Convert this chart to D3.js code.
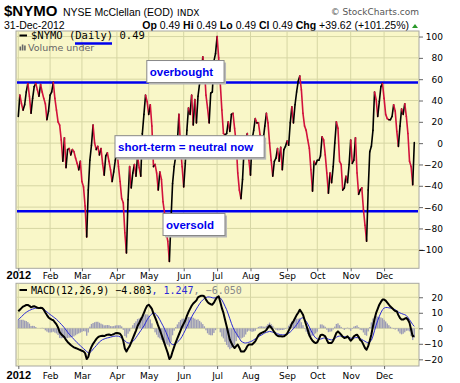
<!DOCTYPE html>
<html>
<head>
<meta charset="utf-8">
<script src="https://cdn.jsdelivr.net/npm/d3@7"></script>
<style>
  body { margin: 0; background: #fff; }
  text { font-family: "DejaVu Sans", sans-serif; }
</style>
</head>
<body>
<svg id="chart" width="460" height="383"></svg>
<script>
// $NYMO daily closes, one array per month (trading days of 2012)
const nymoJan = [25, 45, 37, 31, 36, 48, 56, 44, 28, 42, 53, 56, 50, 44, 55, 48, 42, 37, 22, 30];
const nymoFeb = [45, 48, 57, 42, 31, 20, 17, 3, -17, 5, -23, -6, -5, -11, -6, -8, -14, -19, -25, -17];
const nymoMar = [-36, -41, -59, -88, -44, -16, -2, 17, 0, -6, -3, -11, -5, -19, -30, -12, -9, -17, -25, -36, -27, -16];
const nymoApr = [-6, -22, -36, -52, -56, -84, -103, -53, -22, -42, -28, -20, -31, -12, -23, -31, 9, 27, 45, 39];
const nymoMay = [27, 36, 16, -22, -20, -28, -44, -27, -34, -55, -66, -84, -92, -111, -72, -38, -22, -12, 0, 27, -3, -22];
const nymoJun = [-41, -19, 12, 33, 27, 45, 17, 41, 19, 44, 56, 61, 81, 72, 45, 33, 19, 47, 48, 77, 84];
const nymoJul = [100, 80, 56, 31, 9, 8, 9, 20, 11, 27, 28, 14, 0, -28, -44, -52, -34, -5, 3, 9, -16];
const nymoAug = [-30, 3, 12, 23, 19, 19, 8, -9, 3, 16, 28, 19, 0, -16, -31, -17, -14, -5, -17, -4, -25, -6, -3];
const nymoSep = [2, -2, 19, 34, 19, 36, 48, 58, 63, 50, 28, 16, 12, 3, -5, -25, -45, -17, -20];
const nymoOct = [-16, -16, -12, 6, 3, -11, -28, -47, -28, -37, -22, 0, 20, 14, -17, -20, -44, -42, -31, -37, -20];
const nymoNov = [3, -19, -16, 5, -28, -48, -44, -42, -62, -77, -92, -44, -8, -3, 12, 48, 41, 25, 39, 53, 56];
const nymoDec = [42, 27, 23, 22, 22, 25, 36, 30, 11, -3, 16, 32, 27, 37, 25, 9, -17, -22, -39, 0.49];

// MACD(12,26,9) line
const macdJan = [11, 12, 13, 14, 14.5, 15, 15, 14.5, 13.5, 14, 14.2, 13.8, 13.2, 13, 13.2, 13.1, 12, 10.2, 8.5, 7];
const macdFeb = [6.2, 5.6, 5.2, 3.8, 2.5, 0.5, -2.5, -3.8, -4.8, -5.8, -7.5, -8.8, -9.8, -10.8, -11.6, -12.3, -12.7, -13.1, -13.6, -14];
const macdMar = [-14.5, -14.9, -16, -19.8, -18.5, -14.5, -12, -10, -8.5, -7, -5.8, -5.2, -5, -4.8, -5, -4.5, -4.1, -4, -4.3, -4.1, -3.8, -3.2];
const macdApr = [-3, -3.2, -3.5, -5, -8, -13, -15, -13, -11.5, -9, -6.5, -4, -1.5, 1.5, 3.4, 5.5, 7.5, 10, 12.5, 14.5];
const macdMay = [15.2, 14, 12.5, 9.5, 7, 4.5, 1.5, -1, -4, -7, -10, -13, -16, -19.8, -18.5, -15, -12, -9, -6.5, -4, -1.5, 1];
const macdJun = [3, 5, 8, 10.5, 12.5, 14.5, 16, 17, 18, 20, 20.6, 21, 21, 20.5, 18.5, 17, 16, 15.5, 15.2, 16.5, 18.5];
const macdJul = [20, 20.6, 17, 13, 9.9, 5.5, 1.3, -3, -7.3, -9.5, -11.5, -12.7, -11.5, -10.5, -12.5, -14.9, -15, -14.9, -13.5, -11.5, -10.5];
const macdAug = [-10.5, -10.5, -9.5, -8.4, -6.5, -4.5, -3.5, -3, -2.5, -2, -1, 0.5, 1.7, 0.5, -0.9, -2.5, -4, -4.8, -5.2, -5.2, -5.3, -5.2, -4.5];
const macdSep = [-3.5, -1.5, 0.5, 3, 4.5, 6.5, 8.5, 10, 12, 10.5, 8.8, 5.5, 2.3, -1, -4.5, -6.5, -8, -9, -9.5];
const macdOct = [-9, -7, -4.5, -4.1, -4.5, -5.2, -7.5, -9.5, -9.5, -9.5, -8, -5.5, -3, -2, -3, -4.1, -5.5, -6.3, -6, -5.2, -6.5];
const macdNov = [-8, -7, -5.2, -4.5, -4.1, -5.5, -7.5, -8.4, -10.5, -12.7, -13.8, -11.5, -8, -4, 1.3, 6, 9.9, 12.5, 15.2, 17, 18.5];
const macdDec = [18.5, 17.8, 16.5, 15.2, 14, 13.1, 12, 11.2, 10.9, 8.5, 6.6, 5.6, 5.6, 6.2, 6.6, 5.5, 3.5, -0.9, -5.2, -4.803];

// signal line
const sigJan = [5.5, 6.5, 7.5, 8.5, 9.5, 10.3, 11, 11.5, 12, 12.4, 12.7, 13, 13.1, 13.1, 13, 12.8, 12.3, 11.5, 10.6, 9.7];
const sigFeb = [8.9, 8.2, 7.4, 6.6, 5.8, 4.8, 3.7, 2.6, 1.5, 0.3, -1.1, -2.5, -3.8, -4.9, -6, -7.1, -8.2, -9.3, -10.3, -11.2];
const sigMar = [-12.2, -13.1, -14, -15, -15.8, -15.6, -14.8, -13.4, -12.4, -11.2, -10, -8.8, -8, -7.3, -6.9, -6.5, -6.2, -6, -5.7, -5.4, -5.2, -5];
const sigApr = [-5, -5.1, -5.5, -6.2, -7, -8, -9, -9.5, -9.5, -9.3, -8.5, -7.4, -6, -4.5, -3, -1.5, 0, 1.5, 3.5, 5.5];
const sigMay = [7, 8.3, 9.3, 9.9, 9.6, 8.6, 7.3, 5.5, 3.5, 1.6, -0.5, -2.8, -5.3, -8, -9.8, -10.5, -10.5, -9.8, -9, -8, -6.8, -5.2];
const sigJun = [-3.2, -1.2, 1, 3.2, 5.3, 7.3, 9.2, 10.8, 12.5, 14.2, 15.8, 17.2, 18.3, 19.2, 19.8, 20.2, 20.2, 20, 19.7, 19.5, 19.7];
const sigJul = [20.2, 20.6, 19.6, 18.3, 16.4, 14.2, 12, 9.2, 6.2, 3.2, 0.6, -1.6, -3.2, -4.8, -6.5, -8.2, -8.9, -9.4, -9.5, -9.3, -9];
const sigAug = [-8.6, -8.2, -7.5, -6.8, -6.2, -5.4, -4.8, -4.3, -3.6, -3, -2.6, -2.3, -2, -2.2, -2.5, -2.8, -3, -3.5, -3.9, -4.1, -4.2, -4.2, -4.1];
const sigSep = [-3.8, -3.2, -2.4, -1.4, -0.2, 1, 2.3, 3.8, 5.5, 6.6, 6.8, 5.8, 4.5, 2.8, 0.8, -1.3, -3.3, -5, -6.2];
const sigOct = [-6.8, -7.2, -7, -6.6, -6.3, -6.2, -6.5, -7, -7.3, -7.5, -7.2, -6.6, -5.8, -5.2, -5, -5, -5.2, -5.3, -5.5, -5.6, -5.9];
const sigNov = [-6.3, -6.5, -6.3, -6, -6, -6.2, -6.6, -7.2, -7.8, -8.4, -9, -9.5, -8.8, -7.8, -5, -1.5, 2, 5, 7.7, 10, 12];
const sigDec = [13, 13.4, 13.4, 13.2, 13, 12.8, 12.4, 12, 11.3, 10.5, 9.9, 9.5, 9.1, 8.8, 8.2, 7, 5.5, 4, 2.4, 1.247];

const monthLabels = ['2012', 'Feb', 'Mar', 'Apr', 'May', 'Jun', 'Jul', 'Aug', 'Sep', 'Oct', 'Nov', 'Dec'];
const mainTicks = [-100, -80, -60, -40, -20, 0, 20, 40, 60, 80, 100];
const macdTicks = [-20, -10, 0, 10, 20];
const overbought = 57;
const oversold = -64;
const notes = [
  {text: 'overbought', day: 80.8, value: 77.5},
  {text: 'short-term = neutral now', day: 60.8, value: 7},
  {text: 'oversold', day: 91, value: -66}
];
const ohlcLabels = ['Op', 'Hi', 'Lo', 'Cl', 'Chg'];
const ohlcValues = ['0.49', '0.49', '0.49', '0.49', '+39.62 (+101.25%)'];

const nymoMonths = [nymoJan, nymoFeb, nymoMar, nymoApr, nymoMay, nymoJun,
  nymoJul, nymoAug, nymoSep, nymoOct, nymoNov, nymoDec];
const nymo = nymoMonths.flat();
const macd = [macdJan, macdFeb, macdMar, macdApr, macdMay, macdJun,
  macdJul, macdAug, macdSep, macdOct, macdNov, macdDec].flat();
const signal = [sigJan, sigFeb, sigMar, sigApr, sigMay, sigJun,
  sigJul, sigAug, sigSep, sigOct, sigNov, sigDec].flat();
// histogram is MACD minus its signal line
const hist = macd.map((m, i) => m - signal[i]);

// first trading day index of each month
let acc = 0;
const monthStart = nymoMonths.map(m => { const s = acc; acc += m.length; return s; });

const plotLeft = 16, plotRight = 419;
const mainTop = 31, mainBottom = 268.3;
const macdTop = 283.3, macdBottom = 366;
const gridColor = '#d6d6a4';
const panelFill = '#f9f7c8';

const svg = d3.select('#chart');

const x = d3.scaleLinear().domain([0, nymo.length - 1]).range([18.3, 414.3]);
const yMain = d3.scaleLinear().domain([-117.4, 105.2]).range([mainBottom, mainTop]);
const yMacd = d3.scaleLinear().domain([-24.3, 29]).range([macdBottom, macdTop]);

// header
svg.append('text').attr('x', 4).attr('y', 16)
    .style('font', 'bold 15px "Liberation Sans", Arial').text('$NYMO');
svg.append('text').attr('x', 63).attr('y', 16)
    .style('font', '10.5px "Liberation Sans", Arial').text('NYSE McClellan (EOD)');
svg.append('text').attr('x', 177).attr('y', 16)
    .style('font-size', '9px').text('INDX');
svg.append('text').attr('x', 419).attr('y', 15).attr('text-anchor', 'end')
    .style('font-size', '9px').attr('fill', '#555').text('\u00a9 StockCharts.com');
svg.append('text').attr('x', 4).attr('y', 28.5)
    .style('font', '10.5px "Liberation Sans", Arial').text('31-Dec-2012');

const ohlc = svg.append('text').attr('x', 409).attr('y', 28.5).attr('text-anchor', 'end')
    .style('font', '10.5px "Liberation Sans", Arial');
ohlcLabels.forEach((l, i) => {
  ohlc.append('tspan').style('font-weight', 'bold').text((i ? ' ' : '') + l + ' ');
  ohlc.append('tspan').text(ohlcValues[i]);
});
svg.append('path').attr('d', 'M412,28 L418,28 L415,24 Z').attr('fill', '#2a9a2a');

// panels
function panel(top, bottom) {
  svg.append('rect')
      .attr('x', plotLeft).attr('y', top)
      .attr('width', plotRight - plotLeft).attr('height', bottom - top)
      .attr('fill', panelFill).attr('stroke', '#a8a8a0');
}
panel(mainTop, mainBottom);
panel(macdTop, macdBottom);

function grid(yScale, ticks, top, bottom) {
  const g = svg.append('g').attr('stroke', gridColor).attr('stroke-width', 1);
  g.selectAll('line.h').data(ticks).join('line')
      .attr('x1', plotLeft + 0.5).attr('x2', plotRight - 0.5)
      .attr('y1', d => yScale(d)).attr('y2', d => yScale(d));
  g.selectAll('line.v').data(monthStart).join('line')
      .attr('x1', d => x(d)).attr('x2', d => x(d))
      .attr('y1', top + 0.5).attr('y2', bottom - 0.5);
}
grid(yMain, mainTicks, mainTop, mainBottom);
grid(yMacd, macdTicks, macdTop, macdBottom);

// right-hand y axes
function yAxis(yScale, ticks, minor) {
  const g = svg.append('g').attr('transform', `translate(${plotRight},0)`);
  g.call(d3.axisRight(yScale).tickValues(minor).tickSize(2).tickFormat(''));
  g.call(d3.axisRight(yScale).tickValues(ticks).tickSize(4).tickFormat(d3.format('d')));
  g.select('.domain').remove();
  g.selectAll('line').attr('stroke', '#666');
  g.selectAll('text').attr('x', 24).attr('text-anchor', 'end')
      .style('font-size', '9px').style('font-family', '"DejaVu Sans"').attr('fill', '#000');
}
yAxis(yMain, mainTicks, d3.range(-110, 101, 10));
yAxis(yMacd, macdTicks, d3.range(-20, 21, 5));

// month axes under each panel
function xAxis(yPos, labelY) {
  const g = svg.append('g').attr('transform', `translate(0,${yPos})`);
  g.call(d3.axisBottom(x).tickValues(monthStart).tickSize(3)
      .tickFormat((d, i) => monthLabels[i]));
  g.select('.domain').remove();
  g.selectAll('line').attr('stroke', '#666');
  g.selectAll('text').attr('y', labelY).attr('dy', null)
      .style('font-size', '9px').style('font-family', '"DejaVu Sans"').attr('fill', '#000');
  g.selectAll('.tick').filter((d, i) => i === 0).select('text')
      .style('font', 'bold 11px "Liberation Sans", Arial');
}
xAxis(mainBottom, 11);
xAxis(macdBottom, 12.5);

// overbought / oversold lines
svg.selectAll('line.level').data([overbought, oversold]).join('line')
    .attr('x1', plotLeft + 1).attr('x2', plotRight - 1)
    .attr('y1', d => yMain(d)).attr('y2', d => yMain(d))
    .attr('stroke', '#0000ee').attr('stroke-width', 2.5);

// NYMO line, black on rising days and red on falling days
const segs = d3.pairs(nymo.map((v, i) => [i, v]));
svg.append('g').attr('fill', 'none').attr('stroke-width', 1.6).attr('stroke-linejoin', 'round')
    .selectAll('line').data(segs).join('line')
    .attr('x1', d => x(d[0][0])).attr('y1', d => yMain(d[0][1]))
    .attr('x2', d => x(d[1][0])).attr('y2', d => yMain(d[1][1]))
    .attr('stroke-linecap', 'round')
    .attr('stroke', d => d[1][1] >= d[0][1] ? '#000' : '#d2123c');

// legend of the main panel
svg.append('line').attr('x1', 19.5).attr('x2', 27).attr('y1', 35.5).attr('y2', 35.5)
    .attr('stroke', '#000').attr('stroke-width', 2);
svg.append('text').attr('x', 31).attr('y', 39)
    .style('font', '10.5px "DejaVu Sans Mono", monospace').text('$NYMO (Daily) 0.49');
svg.append('line').attr('x1', 75).attr('x2', 112).attr('y1', 43.5).attr('y2', 43.5)
    .attr('stroke', '#0000ee').attr('stroke-width', 2.5);
const vol = svg.append('g').attr('fill', '#666');
[[19.5, 46.5, 4], [21.8, 44.5, 6], [24.1, 45.5, 5]].forEach(b =>
  vol.append('rect').attr('x', b[0]).attr('y', b[1]).attr('width', 1.6).attr('height', b[2]));
svg.append('text').attr('x', 28).attr('y', 50.5).attr('fill', '#666')
    .style('font-size', '9.5px').text('Volume under');

// annotation boxes
notes.forEach(n => {
  const g = svg.append('g').attr('transform', `translate(${x(n.day)},${yMain(n.value)})`);
  const t = g.append('text').attr('x', 3).attr('y', 15.5).attr('fill', '#0000ee')
      .style('font', 'bold 11.5px "Liberation Sans", Arial').text(n.text);
  const w = t.node().getComputedTextLength() + 14;
  g.insert('rect', 'text').attr('x', 2).attr('y', 2).attr('width', w).attr('height', 22)
      .attr('fill', '#b8b8b8');
  g.insert('rect', 'text').attr('x', 0).attr('y', 0).attr('width', w).attr('height', 22)
      .attr('fill', '#fff').attr('stroke', '#888');
});

// MACD panel
const barW = (x(1) - x(0)) * 0.85;
svg.append('g').attr('fill', '#9c9cb6')
    .selectAll('rect').data(hist).join('rect')
    .attr('x', (d, i) => x(i) - barW / 2)
    .attr('y', d => yMacd(Math.max(0, d)))
    .attr('width', barW)
    .attr('height', d => Math.abs(yMacd(d) - yMacd(0)));

svg.append('path').datum(signal)
    .attr('fill', 'none').attr('stroke', '#2b2bd6').attr('stroke-width', 1)
    .attr('d', d3.line().x((d, i) => x(i)).y(d => yMacd(d)));
svg.append('path').datum(macd)
    .attr('fill', 'none').attr('stroke', '#000').attr('stroke-width', 2)
    .attr('stroke-linejoin', 'round')
    .attr('d', d3.line().x((d, i) => x(i)).y(d => yMacd(d)));

svg.append('line').attr('x1', 19.5).attr('x2', 27).attr('y1', 290).attr('y2', 290)
    .attr('stroke', '#000').attr('stroke-width', 2);
const ml = svg.append('text').attr('x', 31).attr('y', 293.5)
    .style('font', '10px "DejaVu Sans Mono", monospace');
ml.append('tspan').attr('fill', '#000').text('MACD(12,26,9) ' + d3.format('.3f')(macd[macd.length - 1]));
ml.append('tspan').attr('fill', '#2b2bd6').text(', ' + d3.format('.3f')(signal[signal.length - 1]));
ml.append('tspan').attr('fill', '#888').text(', ' + d3.format('.3f')(hist[hist.length - 1]));
</script>
</body>
</html>
